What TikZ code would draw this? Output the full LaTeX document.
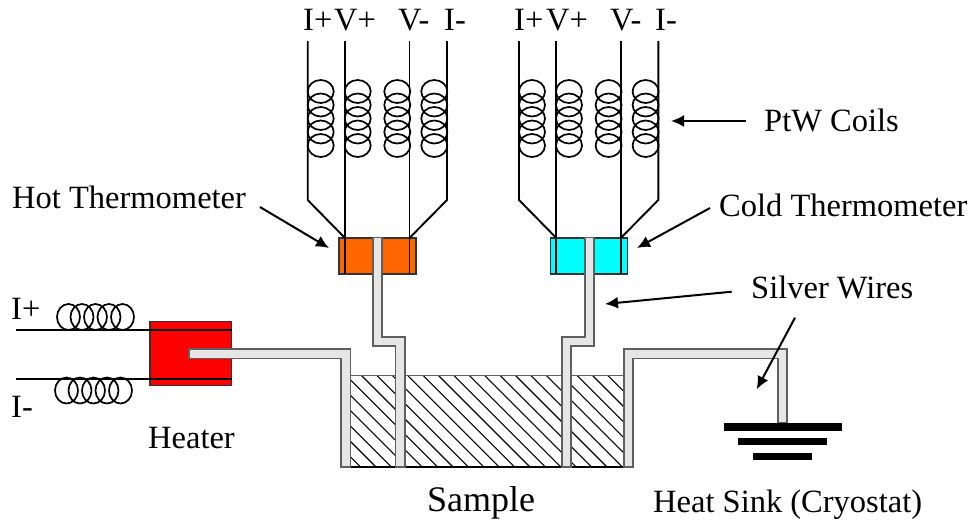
\documentclass[tikz,border=0pt]{standalone}
\usepackage{fontspec}
\usepackage{xcolor}
\usetikzlibrary{arrows.meta}
\setmainfont{Liberation Serif}

\definecolor{hotorange}{RGB}{255,102,0}
\definecolor{coldcyan}{RGB}{0,255,255}
\definecolor{heaterred}{RGB}{255,0,0}
\definecolor{silverfill}{RGB}{230,230,230}
\definecolor{silveredge}{RGB}{95,95,95}

\tikzset{
  lbl/.style={anchor=base west, inner sep=0pt, font=\fontsize{32.5}{36}\selectfont},
  lead/.style={line width=1.9pt, black},
  coil/.style={line width=1.7pt, black},
  pointer/.style={line width=2pt, -{Latex[length=13pt,width=12pt]}},
  silver/.style={fill=silverfill, draw=silveredge, line width=1.6pt},
  block/.style={draw=black!80, line width=1.4pt, inner sep=0pt},
  bar/.style={fill=black, inner sep=0pt},
}

\begin{document}
\begin{tikzpicture}[x=1pt, y=-1pt]
\useasboundingbox (0,0) rectangle (972,520);

% sample
\begin{scope}
\clip (350.3,375.7) rectangle (623.7,467);
\foreach \k in {-7,...,18}
  \draw[line width=1.1pt] ({361.7+15.4*\k},375.7) -- ++(95,95);
\end{scope}
\draw[draw=silveredge, line width=1.4pt] (350.3,467) |- (623.7,375.7) -- (623.7,467);
\draw[line width=1.4pt] (341,467) -- (633,467);

% thermometers
\node[block, fill=hotorange, minimum width=77pt, minimum height=36pt] (hotbox) at (377.5,256) {};
\node[block, fill=coldcyan, minimum width=77pt, minimum height=36pt] (coldbox) at (589.2,256) {};

\foreach \name/\dx in {hot/0, cold/211.3} {
  \begin{scope}[xshift=\dx pt]
  \coordinate (\name a) at (307.7,41);
  \coordinate (\name ab) at (307.7,200);
  \coordinate (\name b) at (345,41);
  \coordinate (\name bb) at (345,274);
  \coordinate (\name bm) at (345,238);
  \coordinate (\name c) at (409.5,41);
  \coordinate (\name cb) at (409.5,274);
  \coordinate (\name cm) at (409.5,238);
  \coordinate (\name d) at (447,41);
  \coordinate (\name db) at (447,200);
  \draw[lead] (\name a) -- (\name ab) -- (\name bm);
  \draw[lead] (\name b) -- (\name bb);
  \draw[lead] (\name c) -- (\name cb);
  \draw[lead] (\name d) -- (\name db) -- (\name cm);
  \foreach \cx in {320.7,357.7,397.3,434.3}
    \foreach \cy in {91.5,105,118.5,132,145.5}
      \draw[coil] (\cx,\cy) ellipse [x radius=13, y radius=11.5];
  \end{scope}
}

% heater
\node[block, fill=heaterred, minimum width=81.7pt, minimum height=64.4pt] (heater) at (190.8,353.5) {};
\coordinate (lefttop) at (16,329.7);
\coordinate (leftbot) at (16,378.7);
\coordinate (heatertop) at (231.7,329.7);
\coordinate (heaterbot) at (231.7,378.7);
\draw[lead] (lefttop) -- (heatertop);
\draw[lead] (leftbot) -- (heaterbot);
\foreach \cx in {68.5,82,95.5,109,122.5}
  \draw[coil] (\cx,317) ellipse [x radius=11.5, y radius=13];
\foreach \cx in {66.5,80,93.5,107,120.5}
  \draw[coil] (\cx,390.5) ellipse [x radius=11.5, y radius=13];

% silver wires
\draw[silver] (188.7,349) -- (350.3,349) -- (350.3,467) -- (341,467) -- (341,358.3) -- (188.7,358.3) -- cycle;
\draw[silver] (373,237.3) -- (382,237.3) -- (382,337) -- (404.7,337) -- (404.7,467) -- (395.3,467) -- (395.3,346) -- (373,346) -- cycle;
\draw[silver] (584.7,237.3) -- (593.7,237.3) -- (593.7,346) -- (570.7,346) -- (570.7,467) -- (561.7,467) -- (561.7,337) -- (584.7,337) -- cycle;
\draw[silver] (624,467) -- (624,348.7) -- (786.7,348.7) -- (786.7,423) -- (778,423) -- (778,358.3) -- (633,358.3) -- (633,467) -- cycle;

% heat sink
\node[bar, minimum width=118.3pt, minimum height=7.4pt] (sinka) at (782.8,427) {};
\node[bar, minimum width=89pt, minimum height=7.3pt] (sinkb) at (782.8,441.7) {};
\node[bar, minimum width=59pt, minimum height=7pt] (sinkc) at (782.8,456.2) {};

% labels
\node[lbl] (hotip) at (303,30.7) {I+};
\node[lbl] (hotvp) at (334,30.7) {V+};
\node[lbl] (hotvm) at (398,30.7) {V-};
\node[lbl] (hotim) at (444,30.7) {I-};
\node[lbl] (coldip) at (514,30.7) {I+};
\node[lbl] (coldvp) at (546,30.7) {V+};
\node[lbl] (coldvm) at (610,30.7) {V-};
\node[lbl] (coldim) at (655,30.7) {I-};
\node[lbl] (hotlbl) at (12,208) {Hot Thermometer};
\node[lbl] (coldlbl) at (719,216) {Cold Thermometer};
\node[lbl] (coilslbl) at (764,131) {PtW Coils};
\node[lbl] (silverlbl) at (751,298) {Silver Wires};
\node[lbl] (heaterip) at (11,319) {I+};
\node[lbl] (heaterim) at (11,417) {I-};
\node[lbl] (heaterlbl) at (148,448) {Heater};
\node[lbl, font=\fontsize{36}{40}\selectfont] (samplelbl) at (427,511) {Sample};
\node[lbl] (sinklbl) at (653,512) {Heat Sink (Cryostat)};

% pointers
\coordinate (hotfrom) at (260,207);
\coordinate (hotto) at (329,248);
\coordinate (coldfrom) at (710,208);
\coordinate (coldto) at (637,248);
\coordinate (coilsfrom) at (746,121);
\coordinate (coilsto) at (671,121);
\coordinate (silverfrom) at (731.7,291.7);
\coordinate (silverto) at (605,304);
\coordinate (sinkfrom) at (795,317.7);
\coordinate (sinkto) at (756.7,389.3);
\draw[pointer] (hotfrom) -- (hotto);
\draw[pointer] (coldfrom) -- (coldto);
\draw[pointer] (coilsfrom) -- (coilsto);
\draw[pointer] (silverfrom) -- (silverto);
\draw[pointer] (sinkfrom) -- (sinkto);
\end{tikzpicture}
\end{document}
